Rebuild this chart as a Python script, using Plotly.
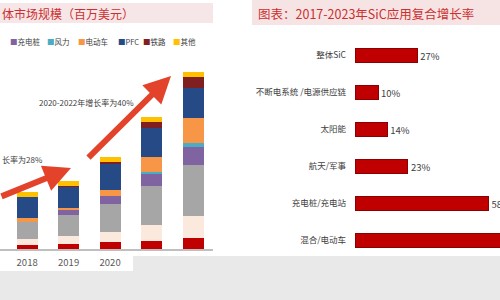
import plotly.graph_objects as go

# ---------------- data ----------------
years = ["2018", "2019", "2020", "2021", "2022"]

series_names = ["不断电系统", "其他工业", "光伏", "充电桩", "风力", "电动车", "PFC", "铁路", "其他"]
series_colors = ["#c00000", "#fce9dd", "#a6a6a6", "#8064a2", "#4bacc6", "#f79646", "#254a85", "#7f1f1f", "#ffc000"]
v_ups = [20, 27, 33, 40, 55]
v_ind = [30, 37, 50, 80, 110]
v_pv = [85, 108, 143, 195, 255]
v_charge = [0, 22, 37, 63, 88]
v_wind = [0, 0, 0, 5, 23]
v_ev = [18, 12, 33, 75, 122]
v_pfc = [105, 108, 133, 145, 150]
v_rail = [0, 3, 8, 33, 58]
v_other = [25, 25, 25, 22, 25]
series_values = [v_ups, v_ind, v_pv, v_charge, v_wind, v_ev, v_pfc, v_rail, v_other]
legend_visible = ["充电桩", "风力", "电动车", "PFC", "铁路", "其他"]

cagr_apps = ["整体SiC", "不断电系统 /电源供应链", "太阳能", "航天/军事", "充电桩/充电站", "混合/电动车"]
cagr_vals = [27, 10, 14, 23, 58, 81]

title_left = "体市场规模（百万美元）"
title_right = "图表：2017-2023年SiC应用复合增长率"
note_1 = "长率为28%"
note_2 = "2020-2022年增长率为40%"

W, H = 500, 300
FONT = "Noto Sans CJK SC, Noto Sans, sans-serif"


def px(x, y):
    return x / W, 1 - y / H


fig = go.Figure()

for name, color, vals in zip(series_names, series_colors, series_values):
    fig.add_trace(go.Bar(
        x=years, y=vals, name=name, marker=dict(color=color, line=dict(width=0)),
        width=0.51, xaxis="x", yaxis="y", showlegend=False,
    ))

fig.add_trace(go.Bar(
    y=cagr_apps, x=cagr_vals, orientation="h", xaxis="x2", yaxis="y2",
    marker=dict(color="#c00000", line=dict(color="#8b0000", width=1)),
    width=0.39, texttemplate="%{x}%", textposition="outside", cliponaxis=False,
    textfont=dict(size=9.5, color="#404040", family=FONT), showlegend=False,
))

shapes = []
# title bands
x0, y0 = px(0, 3); x1, y1 = px(213, 23)
shapes.append(dict(type="rect", xref="paper", yref="paper", x0=x0, x1=x1, y0=y1, y1=y0,
                   fillcolor="#f6e6e8", line=dict(width=0), layer="below"))
x0, y0 = px(252, 0); x1, y1 = px(500, 25)
shapes.append(dict(type="rect", xref="paper", yref="paper", x0=x0, x1=x1, y0=y1, y1=y0,
                   fillcolor="#f6e4e4", line=dict(width=0), layer="below"))
# gray dotted overlay at bottom
for (a, b, c, d) in [(133, 256, 500, 300), (0, 271, 133, 300)]:
    x0, y0 = px(a, b); x1, y1 = px(c, d)
    shapes.append(dict(type="rect", xref="paper", yref="paper", x0=x0, x1=x1, y0=y1, y1=y0,
                       fillcolor="#e9e9e9", line=dict(width=0), layer="above"))

annotations = []
tx, ty = px(0, 13)
annotations.append(dict(text=title_left, x=tx, y=ty, xref="paper", yref="paper", xanchor="left",
                        yanchor="middle", showarrow=False, font=dict(size=12, color="#cc2f2f", family=FONT)))
tx, ty = px(256, 14)
annotations.append(dict(text=title_right, x=tx, y=ty, xref="paper", yref="paper", xanchor="left",
                        yanchor="middle", showarrow=False, font=dict(size=12.5, color="#cc2f2f", family=FONT)))

# legend (manual, compact like the reference)
legend_x = [8, 45, 76, 116, 141, 171]
for lx, nm in zip(legend_x, legend_visible):
    col = series_colors[series_names.index(nm)]
    ax_, ay_ = px(lx, 41)
    annotations.append(dict(text=f"<span style='color:{col}'>■</span>{nm}", x=ax_, y=ay_,
                            xref="paper", yref="paper", xanchor="left", yanchor="middle",
                            showarrow=False, font=dict(size=7.5, color="#404040", family=FONT)))

# arrows
for (tipx, tipy, dx, dy) in [(71, 168, -95, 29), (171, 76, -84, 83)]:
    ax_, ay_ = px(tipx, tipy)
    annotations.append(dict(text="", x=ax_, y=ay_, xref="paper", yref="paper", ax=dx, ay=dy,
                            showarrow=True, arrowhead=2, arrowsize=0.9, arrowwidth=6,
                            arrowcolor="#e2432a", standoff=0, startstandoff=0))

ax_, ay_ = px(0, 159)
annotations.append(dict(text=note_1, x=ax_, y=ay_, xref="paper", yref="paper", xanchor="left",
                        yanchor="middle", showarrow=False, font=dict(size=8, color="#404040", family=FONT)))
ax_, ay_ = px(37, 102)
annotations.append(dict(text=note_2, x=ax_, y=ay_, xref="paper", yref="paper", xanchor="left",
                        yanchor="middle", showarrow=False, font=dict(size=8, color="#404040", family=FONT)))

fig.update_layout(
    width=W, height=H, margin=dict(l=0, r=0, t=0, b=0, autoexpand=False),
    paper_bgcolor="white", plot_bgcolor="white", barmode="stack", bargap=0.3,
    font=dict(family=FONT),
    xaxis=dict(domain=[0, 213 / W], range=[-0.654, 4.48], type="category",
               showline=True, linecolor="#bfbfbf", linewidth=2, ticks="", showgrid=False,
               tickfont=dict(size=9.5, color="#595959"), ticklabelstandoff=4),
    yaxis=dict(domain=[1 - 249 / H, 1 - 60 / H], range=[0, 945], visible=False),
    xaxis2=dict(domain=[355 / W, 1.0], range=[0, 63], visible=False, anchor="y2"),
    yaxis2=dict(domain=[1 - 259 / H, 1 - 37 / H], range=[5.5, -0.5], type="category",
                anchor="x2", showline=False, ticks="", showgrid=False,
                tickfont=dict(size=8.5, color="#404040"), ticklabelstandoff=8),
    shapes=shapes, annotations=annotations,
)

fig.write_html("out.html")
